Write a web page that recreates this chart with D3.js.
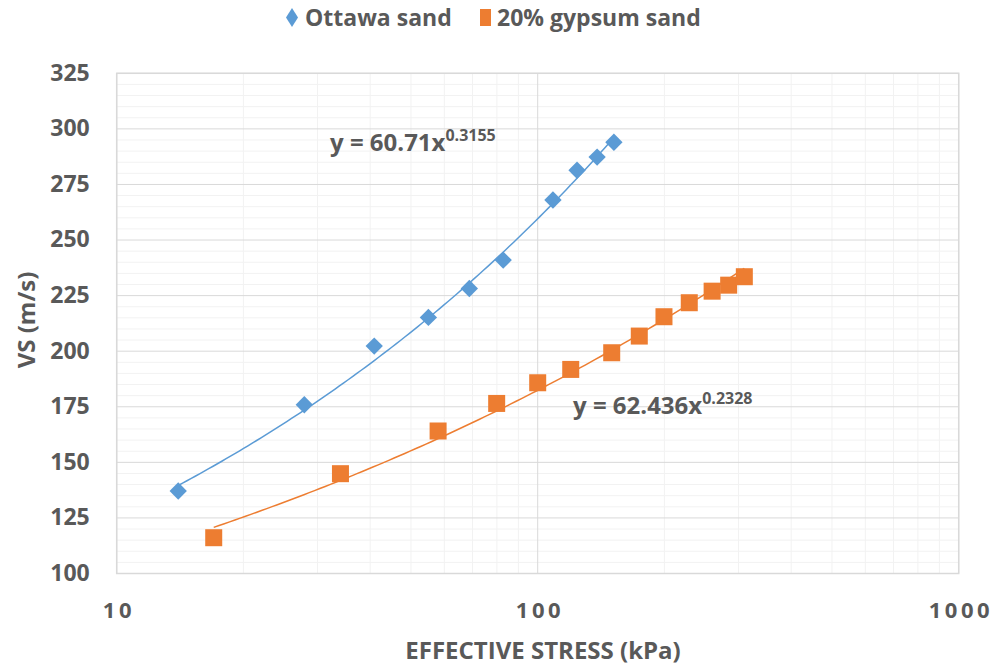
<!DOCTYPE html>
<html><head><meta charset="utf-8">
<script src="https://cdn.jsdelivr.net/npm/d3@7"></script>
<style>body{margin:0;background:#fff;} text{font-family:"Open Sans",sans-serif;font-weight:bold;fill:#595959;}</style>
</head><body><svg id="c" width="995" height="666"></svg>
<script>
const ottawaX = [14.0, 27.9, 40.9, 55.0, 68.8, 82.8, 108.7, 124.0, 138.4, 151.7];
const ottawaY = [137.1, 175.9, 202.3, 215.2, 228.2, 241.0, 268.0, 281.4, 287.3, 294.0];
const gypsumX = [17.0, 34.0, 58.0, 79.9, 100.0, 119.8, 149.9, 174.3, 199.5, 229.1, 259.6, 284.2, 309.6];
const gypsumY = [116.1, 144.9, 164.1, 176.5, 185.8, 191.8, 199.3, 206.8, 215.5, 221.8, 227.0, 229.7, 233.5];
const ottawaFit = {a: 60.71, b: 0.3155};
const gypsumFit = {a: 62.436, b: 0.2328};
const yTicks = [100, 125, 150, 175, 200, 225, 250, 275, 300, 325];
const xTicks = [10, 100, 1000];
const seriesNames = ["Ottawa sand", "20% gypsum sand"];
const colors = ["#5B9BD5", "#ED7D31"];

const svg = d3.select("#c");
const L = 116.7, R = 958.7, T = 73.3, B = 573.5;
const x = d3.scaleLog().domain([10, 1000]).range([L, R]);
const y = d3.scaleLinear().domain([100, 325]).range([B, T]);

// minor gridlines
const minorY = d3.range(100, 326, 5).filter(v => v % 25 !== 0);
svg.append("g").selectAll("line").data(minorY).join("line")
  .attr("x1", L).attr("x2", R).attr("y1", d => y(d)).attr("y2", d => y(d))
  .attr("stroke", "#F2F2F2").attr("stroke-width", 1);
const minorX = [];
[10, 100].forEach(dec => { for (let k = 2; k <= 9; k++) minorX.push(dec * k); });
svg.append("g").selectAll("line").data(minorX).join("line")
  .attr("y1", T).attr("y2", B).attr("x1", d => x(d)).attr("x2", d => x(d))
  .attr("stroke", "#F2F2F2").attr("stroke-width", 1);
// major gridlines
svg.append("g").selectAll("line").data(yTicks).join("line")
  .attr("x1", L).attr("x2", R).attr("y1", d => y(d)).attr("y2", d => y(d))
  .attr("stroke", "#D9D9D9").attr("stroke-width", 1);
svg.append("g").selectAll("line").data(xTicks).join("line")
  .attr("y1", T).attr("y2", B).attr("x1", d => x(d)).attr("x2", d => x(d))
  .attr("stroke", "#D9D9D9").attr("stroke-width", 1);
svg.append("rect").attr("x", L).attr("y", T).attr("width", R - L).attr("height", B - T)
  .attr("fill", "none").attr("stroke", "#D9D9D9").attr("stroke-width", 1.5);

// axes via d3
const yAxis = svg.append("g").attr("transform", `translate(${L - 27},0)`)
  .call(d3.axisLeft(y).tickValues(yTicks).tickSize(0).tickPadding(0).tickFormat(d3.format("d")));
yAxis.select(".domain").remove();
yAxis.selectAll("text").attr("font-size", 23).attr("fill", "#595959").attr("font-family", "'Open Sans', sans-serif").attr("font-weight", "bold").attr("dy", "0.3em");
const ls = 3.5;
const xAxis = svg.append("g").attr("transform", `translate(${ls / 2},0)`)
  .call(d3.axisBottom(x).tickValues(xTicks).tickSize(0).tickPadding(0).tickFormat(d3.format("d")));
xAxis.select(".domain").remove();
xAxis.selectAll("text").attr("font-size", 22).attr("fill", "#595959").attr("font-family", "'Open Sans', sans-serif").attr("font-weight", "bold").attr("letter-spacing", ls + "px").attr("y", 618).attr("dy", 0);

// axis titles
svg.append("text").attr("x", 543).attr("y", 659).attr("text-anchor", "middle").attr("font-size", 24).text("EFFECTIVE STRESS (kPa)");
svg.append("text").attr("transform", "translate(35,320) rotate(-90)").attr("text-anchor", "middle").attr("font-size", 24).text("VS (m/s)");

// trendlines
function fitLine(fit, x0, x1, color) {
  const xs = d3.range(0, 101).map(i => Math.pow(10, Math.log10(x0) + (Math.log10(x1) - Math.log10(x0)) * i / 100));
  svg.append("path").datum(xs)
    .attr("d", d3.line().x(d => x(d)).y(d => y(fit.a * Math.pow(d, fit.b))))
    .attr("fill", "none").attr("stroke", color).attr("stroke-width", 1.5);
}
fitLine(ottawaFit, d3.min(ottawaX), d3.max(ottawaX), colors[0]);
fitLine(gypsumFit, d3.min(gypsumX), d3.max(gypsumX), colors[1]);

// markers
const diamond = d3.symbol().type(d3.symbolSquare).size(150);
svg.append("g").selectAll("path").data(ottawaX.map((v, i) => [v, ottawaY[i]])).join("path")
  .attr("d", diamond)
  .attr("transform", d => `translate(${x(d[0])},${y(d[1])}) rotate(45)`)
  .attr("fill", colors[0]);
const sq = 17;
svg.append("g").selectAll("rect").data(gypsumX.map((v, i) => [v, gypsumY[i]])).join("rect")
  .attr("x", d => x(d[0]) - sq / 2).attr("y", d => y(d[1]) - sq / 2)
  .attr("width", sq).attr("height", sq).attr("fill", colors[1]);

// equation labels
function eq(xp, yp, a, b) {
  const t = svg.append("text").attr("x", xp).attr("y", yp).attr("font-size", 24);
  t.append("tspan").text("y = " + a + "x");
  t.append("tspan").attr("dy", -10).attr("font-size", 16).text(b);
}
eq(330, 151, "60.71", "0.3155");
eq(573, 414, "62.436", "0.2328");

// legend
const lg = svg.append("g");
lg.append("path").attr("d", "M292,8 L298,17.5 L292,27 L286,17.5 Z").attr("fill", colors[0]);
lg.append("text").attr("x", 305).attr("y", 26).attr("font-size", 23).text(seriesNames[0]);
lg.append("rect").attr("x", 480).attr("y", 9).attr("width", 11).attr("height", 17).attr("fill", colors[1]);
lg.append("text").attr("x", 497).attr("y", 26).attr("font-size", 23).text(seriesNames[1]);
</script></body></html>
